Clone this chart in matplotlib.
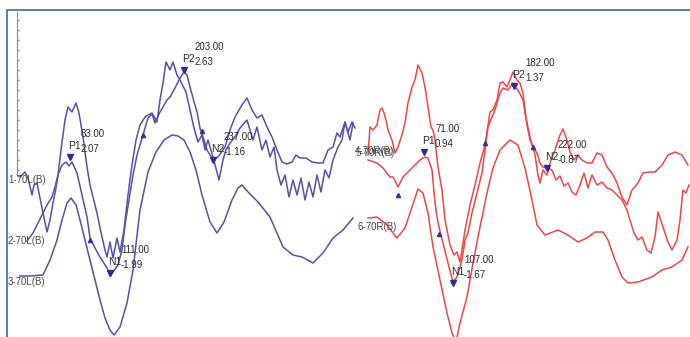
import numpy as np
import matplotlib.pyplot as plt

plt.rcParams['font.family'] = ['Liberation Sans Narrow', 'Liberation Sans', 'DejaVu Sans']

# DATA (sample position, level) for each channel
# left side, 70 dB, left ear
x1 = [20, 25, 28, 32, 34, 37, 42, 47, 50, 53, 56, 58, 61, 65, 68, 72, 76, 79, 83, 87,
      90, 97, 100, 105, 107, 110, 113, 117, 120, 124, 128, 132, 136, 140, 145, 148, 152, 157, 160, 163,
      166, 170, 173, 177, 180, 186, 190, 194, 198, 202, 205, 208, 213, 219, 223, 226, 230, 235, 240, 247,
      253, 257, 262, 266, 270, 274, 277, 281, 285, 289, 293, 297, 301, 305, 309, 313, 317, 321, 325, 329,
      333, 338, 342, 345, 350, 353]
y1 = [177, 172, 178, 195, 185, 183, 208, 232, 220, 203, 188, 175, 150, 120, 107, 112, 103, 113, 137, 167,
      185, 213, 228, 250, 257, 242, 258, 238, 252, 230, 195, 165, 140, 125, 117, 115, 113, 122, 100, 83,
      62, 70, 62, 75, 80, 92, 110, 128, 142, 135, 150, 140, 157, 180, 160, 150, 143, 137, 128, 120,
      140, 127, 150, 140, 157, 147, 170, 185, 175, 197, 180, 195, 178, 200, 182, 197, 175, 192, 170, 178,
      160, 147, 140, 122, 140, 123]

x2 = [27, 33, 38, 43, 47, 52, 55, 58, 62, 66, 69, 72, 77, 82, 87, 90, 95, 100, 107, 110,
      113, 118, 122, 125, 129, 133, 137, 143, 148, 152, 155, 160, 163, 167, 170, 175, 180, 184, 187, 190,
      193, 197, 200, 204, 207, 213, 218, 225, 230, 235, 242, 247, 252, 257, 262, 267, 272, 277, 282, 287,
      292, 296, 300, 306, 312, 318, 323, 328, 333, 337, 340, 345, 348, 352, 355]
y2 = [241, 233, 223, 213, 205, 197, 187, 175, 165, 162, 166, 162, 173, 195, 217, 238, 248, 257, 268, 276,
      272, 265, 250, 225, 200, 175, 155, 135, 118, 114, 123, 112, 107, 100, 97, 88, 78, 72, 75, 87,
      98, 112, 128, 140, 150, 160, 157, 147, 130, 117, 105, 98, 110, 118, 115, 127, 137, 150, 162, 164,
      162, 155, 158, 158, 162, 163, 163, 150, 147, 133, 137, 122, 132, 122, 128]

x3 = [20, 30, 43, 50, 57, 62, 67, 71, 76, 80, 85, 90, 95, 100, 105, 110, 114, 120, 127, 133,
      140, 148, 156, 164, 172, 178, 184, 190, 196, 202, 210, 217, 224, 232, 238, 242, 248, 258, 270, 283,
      293, 302, 313, 323, 333, 343, 353]
y3 = [276, 276, 275, 260, 240, 220, 203, 198, 205, 220, 240, 260, 280, 300, 318, 330, 335, 327, 303, 270,
      210, 172, 152, 140, 135, 136, 140, 152, 170, 195, 222, 233, 222, 200, 188, 185, 192, 202, 217, 247,
      255, 257, 263, 253, 238, 230, 218]

# right side
x4 = [368, 370, 373, 377, 380, 382, 384, 386, 388, 392, 395, 398, 402, 405, 408, 412, 415, 418, 422, 425,
      428, 431, 433, 435, 438, 442, 445, 450, 454, 457, 460, 462, 465, 470, 475, 480, 485, 490, 493, 497,
      500, 503, 507, 510, 513, 517, 520, 523, 526, 530, 535, 538, 540, 543, 547, 551, 555, 560, 563, 567,
      570, 574, 578, 582, 587, 592, 597, 602, 607, 612, 617, 622, 627, 632, 638, 643, 650, 655, 662, 668,
      675, 682, 688]
y4 = [155, 127, 130, 125, 110, 108, 113, 120, 130, 140, 153, 147, 135, 123, 103, 87, 80, 65, 73, 87,
      107, 127, 130, 140, 167, 190, 220, 245, 255, 252, 262, 250, 230, 205, 185, 163, 145, 112, 110, 100,
      83, 82, 87, 80, 72, 80, 83, 93, 118, 137, 155, 175, 183, 170, 175, 160, 150, 135, 129, 140,
      152, 160, 155, 160, 163, 163, 153, 155, 167, 173, 183, 197, 205, 190, 183, 173, 172, 172, 165, 155,
      152, 155, 165]

x5 = [368, 377, 383, 390, 393, 398, 403, 410, 415, 420, 425, 428, 432, 435, 438, 443, 448, 453, 457, 462,
      465, 468, 472, 477, 482, 485, 488, 492, 495, 500, 503, 508, 513, 515, 518, 523, 527, 530, 533, 537,
      540, 543, 547, 552, 556, 560, 564, 568, 572, 576, 580, 584, 588, 592, 597, 602, 607, 612, 617, 622,
      627, 630, 634, 638, 642, 647, 651, 655, 658, 663, 668, 672, 677, 680, 683, 686, 689]
y5 = [160, 163, 168, 177, 177, 187, 177, 170, 165, 160, 157, 158, 170, 203, 223, 243, 263, 282, 277, 260,
      240, 233, 213, 193, 173, 150, 127, 117, 110, 93, 88, 90, 83, 87, 90, 100, 125, 140, 147, 153,
      163, 167, 168, 170, 180, 176, 186, 183, 192, 195, 185, 173, 188, 175, 185, 182, 188, 190, 195, 200,
      210, 220, 233, 240, 237, 250, 253, 237, 212, 227, 242, 250, 240, 220, 190, 193, 185]

x6 = [368, 377, 387, 397, 405, 412, 418, 423, 428, 433, 440, 447, 452, 456, 460, 467, 473, 480, 487, 493,
      500, 510, 518, 525, 532, 537, 545, 558, 568, 578, 587, 595, 603, 608, 615, 622, 628, 638, 652, 662,
      672, 682, 688]
y6 = [218, 217, 225, 238, 228, 207, 189, 193, 213, 247, 280, 313, 333, 342, 323, 297, 263, 227, 193, 168,
      150, 140, 145, 168, 200, 225, 235, 230, 235, 242, 238, 232, 232, 240, 260, 277, 283, 282, 277, 270,
      267, 260, 247]

channels = ['1-70L(B)', '2-70L(B)', '3-70L(B)', '4-70R(B)', '5-70R(B)', '6-70R(B)']

# picked peaks: name, latency (ms), amplitude (uV) and where the marker sits
peak_names = ['P1', 'N1', 'P2', 'N2', 'P1', 'N1', 'P2', 'N2']
peak_lat = [83.00, 111.00, 203.00, 237.00, 71.00, 107.00, 182.00, 222.00]
peak_amp = [2.07, -1.99, 2.63, -1.16, 0.94, -1.67, 1.37, -0.87]
peak_x = [70, 110, 184, 213, 424, 453, 514, 547]
peak_y = [157, 273, 70, 160, 152, 283, 86, 168]

# unlabelled latency cursors
cur_x = [90, 143, 202, 398, 439, 485, 533]
cur_y = [240, 135, 131, 195, 234, 143, 147]

blue = '#5252AA'
red = '#EE4646'

fig = plt.figure(figsize=(6.9, 3.37), dpi=100)
ax = fig.add_axes([0, 0, 1, 1])
ax.set_xlim(0, 690)
ax.set_ylim(337, 0)
ax.axis('off')

# frame and amplitude bar
ax.plot([7, 7, 690], [337, 10, 10], color='#4472C4', lw=1.3, solid_capstyle='butt')
ax.plot([17, 17, 20], [12, 176, 176], color='#8A8A8A', lw=0.8)
ax.plot([18] * 16, np.arange(20, 176, 10), ls='none', marker='_', ms=2, color='#8A8A8A')

for xs, ys in [(x1, y1), (x2, y2), (x3, y3)]:
    ax.plot(xs, ys, color=blue, lw=1.1)
for xs, ys in [(x4, y4), (x5, y5), (x6, y6)]:
    ax.plot(xs, ys, color=red, lw=1.1)

# channel names (4 and 5 share a baseline, so their names sit on top of each other)
lab_pos = [(8, 180), (8, 241), (8, 282), (355, 151), (356, 153), (357, 227)]
for name, (lx, ly) in zip(channels, lab_pos):
    ax.text(lx, ly, name, fontsize=7, color='#484848', ha='left', va='center')

ax.plot(cur_x, cur_y, ls='none', marker='^', ms=3, color='#3030A0')
ax.plot(peak_x, peak_y, ls='none', marker='v', ms=4, color='#2B2B9C')

for name, lat, amp, px, py in zip(peak_names, peak_lat, peak_amp, peak_x, peak_y):
    ax.annotate(name, (px, py), xytext=(-2, 11), textcoords='offset pixels',
                fontsize=7.5, color='#2A2A2A', ha='left', va='center')
    ax.annotate(f'{lat:.2f}', (px, py), xytext=(11, 23), textcoords='offset pixels',
                fontsize=7, color='#2A2A2A', ha='left', va='center')
    ax.annotate(f'{amp:.2f}', (px, py), xytext=(11, 8), textcoords='offset pixels',
                fontsize=7, color='#2A2A2A', ha='left', va='center')

fig.savefig('out.png', dpi=100)
